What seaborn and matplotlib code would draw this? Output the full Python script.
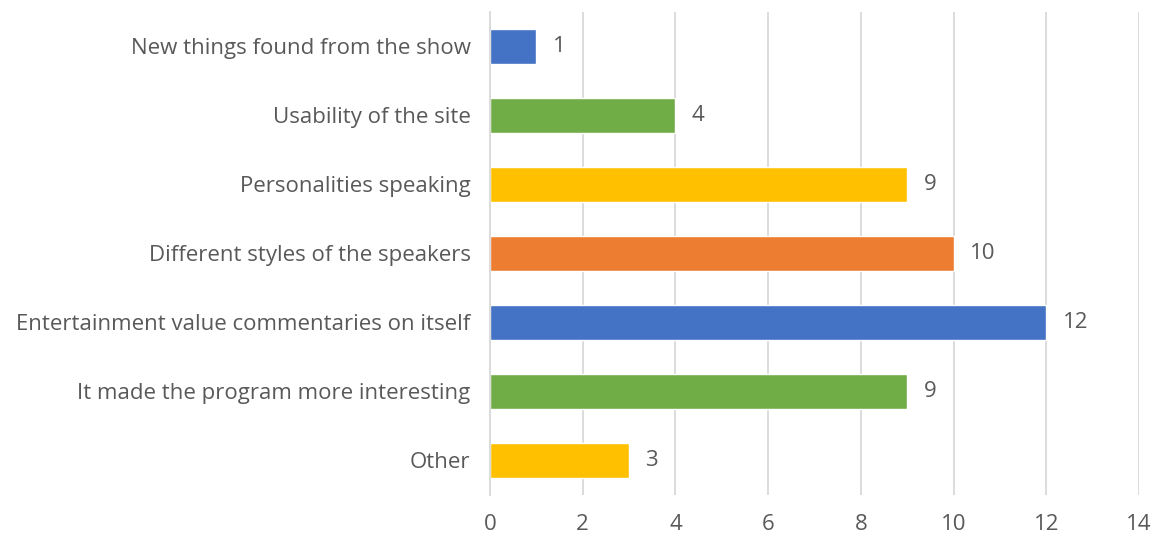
import matplotlib
matplotlib.use("Agg")
import matplotlib.pyplot as plt
import seaborn as sns
import pandas as pd

categories = [
    "New things found from the show",
    "Usability of the site",
    "Personalities speaking",
    "Different styles of the speakers",
    "Entertainment value commentaries on itself",
    "It made the program more interesting",
    "Other",
]
values = [1, 4, 9, 10, 12, 9, 3]
colors = ["#4472C4", "#70AD47", "#FFC000", "#ED7D31", "#4472C4", "#70AD47", "#FFC000"]
xticks = [0, 2, 4, 6, 8, 10, 12, 14]

sns.set_theme(style="white")
plt.rcParams["font.family"] = ["Open Sans", "DejaVu Sans"]

df = pd.DataFrame({"cat": categories, "val": values})

fig = plt.figure(figsize=(11.68, 5.38), dpi=100)
ax = fig.add_axes([0.4195, 0.080, 0.5557, 0.898])

sns.barplot(data=df, x="val", y="cat", hue="cat", palette=colors, legend=False,
            orient="h", width=0.5, ax=ax, saturation=1)

ax.set_xlim(0, 14)
ax.set_xticks(xticks)
ax.set_xlabel("")
ax.set_ylabel("")
ax.grid(axis="x", color="#D9D9D9", linewidth=1.3)
ax.set_axisbelow(True)
for s in ["top", "right", "bottom"]:
    ax.spines[s].set_visible(False)
ax.spines["left"].set_color("#D9D9D9")
ax.spines["left"].set_linewidth(1.3)
ax.tick_params(axis="both", length=0, colors="#595959", labelsize=16)
ax.tick_params(axis="y", pad=14)
ax.tick_params(axis="x", pad=14)

for i, v in enumerate(values):
    ax.text(v + 0.35, i, str(v), va="center", ha="left", fontsize=16, color="#595959")

fig.savefig("out.png", dpi=100, facecolor="white")
